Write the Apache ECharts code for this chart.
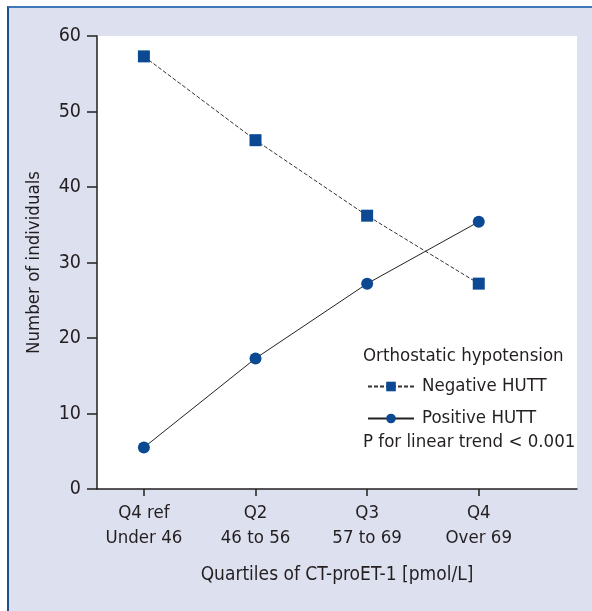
<!DOCTYPE html>
<html>
<head>
<meta charset="utf-8">
<script src="https://cdn.jsdelivr.net/npm/echarts@6/dist/echarts.min.js"></script>
<style>
  html, body { margin: 0; padding: 0; background: #ffffff; }
  #bg { position: absolute; left: 7px; top: 6px; width: 585px; height: 605px;
        background: #dde0ef; border-left: 2px solid #1d4f8c; border-top: 2px solid #3f78b8; box-sizing: border-box; }
  #chart { position: absolute; left: 0; top: 0; width: 592px; height: 611px; }
</style>
</head>
<body>
<div id="bg"></div>
<div id="chart"></div>
<script>
const categories = ['Q4 ref\nUnder 46', 'Q2\n46 to 56', 'Q3\n57 to 69', 'Q4\nOver 69'];
const negativeHUTT = [57.3, 46.2, 36.2, 27.2];
const positiveHUTT = [5.5, 17.3, 27.2, 35.4];
const yTicks = [0, 10, 20, 30, 40, 50, 60];

const FONT = "'DejaVu Sans', sans-serif";
const FSTYLE = 'condensed';
const TXT = '#231f20';
const MARK = '#0b4a92';
const FS = 18.5;

const chart = echarts.init(document.getElementById('chart'), null, { renderer: 'canvas' });
chart.setOption({
  backgroundColor: 'transparent',
  animation: false,
  textStyle: { fontFamily: FONT, color: TXT },
  grid: { left: 97, top: 36, right: 15, bottom: 122, show: true, backgroundColor: '#ffffff', borderWidth: 0 },
  xAxis: {
    type: 'value',
    min: -0.42, max: 3.88,
    name: 'Quartiles of CT-proET-1 [pmol/L]',
    nameLocation: 'middle', nameGap: 77,
    nameTextStyle: { fontFamily: FONT, fontStyle: FSTYLE, fontSize: 19, color: TXT },
    axisLine: { show: true, onZero: false, lineStyle: { color: TXT, width: 1.5 } },
    axisTick: { show: true, customValues: [0, 1, 2, 3], length: 7, lineStyle: { color: TXT, width: 1.5 } },
    axisLabel: { customValues: [0, 1, 2, 3], formatter: v => categories[Math.round(v)], fontFamily: FONT, fontStyle: FSTYLE, fontSize: FS, color: TXT, lineHeight: 25, margin: 12 },
    splitLine: { show: false }
  },
  yAxis: {
    type: 'value', min: 0, max: 60, interval: 10,
    name: 'Number of individuals',
    nameLocation: 'middle', nameGap: 53, nameRotate: 90,
    nameTextStyle: { fontFamily: FONT, fontStyle: FSTYLE, fontSize: FS, color: TXT },
    axisLine: { show: true, onZero: false, lineStyle: { color: TXT, width: 1.5 } },
    axisTick: { show: true, length: 10, lineStyle: { color: TXT, width: 1.5 } },
    axisLabel: { fontFamily: FONT, fontStyle: FSTYLE, fontSize: 19.5, color: TXT, margin: 16, formatter: v => yTicks.includes(v) ? String(v) : '' },
    splitLine: { show: false }
  },
  legend: {
    orient: 'vertical', left: 362, top: 372,
    itemWidth: 46, itemHeight: 12, itemGap: 13,
    textStyle: { fontFamily: FONT, fontStyle: FSTYLE, fontSize: FS, color: TXT, padding: [0, 0, 0, 3] },
    data: ['Negative HUTT', 'Positive HUTT']
  },
  graphic: [
    { type: 'text', left: 363, top: 347, style: { text: 'Orthostatic hypotension', font: FSTYLE + ' ' + FS + 'px ' + FONT, fill: TXT } },
    { type: 'text', left: 363, top: 433, style: { text: 'P for linear trend < 0.001', font: FSTYLE + ' ' + FS + 'px ' + FONT, fill: TXT } }
  ],
  series: [
    {
      name: 'Negative HUTT', type: 'line',
      data: negativeHUTT.map((v, i) => [i, v]),
      symbol: 'rect', symbolSize: 12,
      itemStyle: { color: MARK },
      lineStyle: { color: '#333333', width: 1, type: [4, 2] }
    },
    {
      name: 'Positive HUTT', type: 'line',
      data: positiveHUTT.map((v, i) => [i, v]),
      symbol: 'circle', symbolSize: 12,
      itemStyle: { color: MARK },
      lineStyle: { color: '#222222', width: 1 }
    }
  ]
});
</script>
</body>
</html>
